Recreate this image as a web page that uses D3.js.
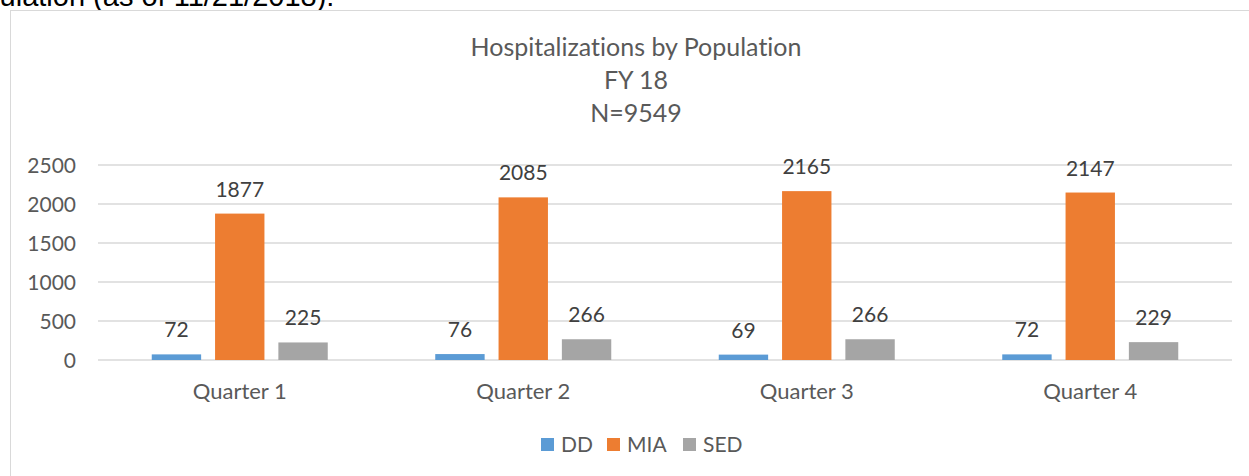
<!DOCTYPE html>
<html>
<head>
<meta charset="utf-8">
<script src="https://cdn.jsdelivr.net/npm/d3@7"></script>
<style>
  body { margin: 0; background: #fff; }
  svg { display: block; font-variant-ligatures: none; }
</style>
</head>
<body>
<script>
// values
var quarters = ["Quarter 1", "Quarter 2", "Quarter 3", "Quarter 4"];
var seriesNames = ["DD", "MIA", "SED"];
var ddValues = [72, 76, 69, 72];
var miaValues = [1877, 2085, 2165, 2147];
var sedValues = [225, 266, 266, 229];
var yTicks = [0, 500, 1000, 1500, 2000, 2500];
var titleLines = ["Hospitalizations by Population", "FY 18", "N=9549"];

var colors = { DD: "#5B9BD5", MIA: "#ED7D31", SED: "#A5A5A5" };
var textColor = "#595959";
var font = "Lato, 'Open Sans', sans-serif";

var width = 1249, height = 476;

var svg = d3.select("body")
    .append("svg")
    .attr("width", width)
    .attr("height", height);

// bit of the document text above the chart, cut off by the crop
svg.append("text")
    .attr("x", -52)
    .attr("y", 6)
    .attr("font-family", "'Liberation Sans', Arial, sans-serif")
    .attr("font-size", "29px")
    .attr("fill", "#000")
    .text("Population (as of 11/21/2018):");

// chart area border (right/bottom run off the picture)
svg.append("rect")
    .attr("x", 10.5)
    .attr("y", 10.5)
    .attr("width", 1300)
    .attr("height", 600)
    .attr("fill", "#fff")
    .attr("stroke", "#D9D9D9")
    .attr("stroke-width", 1);

// title
svg.append("g")
    .selectAll("text")
    .data(titleLines)
    .enter().append("text")
    .attr("x", 636)
    .attr("y", (d, i) => 56 + i * 33)
    .attr("text-anchor", "middle")
    .attr("font-family", font)
    .attr("font-size", "25px")
    .attr("fill", textColor)
    .text(d => d);

var x = d3.scaleBand()
    .domain(quarters)
    .range([98, 1232]);

var xInner = d3.scaleBand()
    .domain(seriesNames)
    .range([0, 176])
    .paddingInner(0.22);

var y = d3.scaleLinear()
    .domain([0, 2500])
    .range([360, 165]);

// gridlines
svg.append("g")
    .selectAll("line")
    .data(yTicks)
    .enter().append("line")
    .attr("x1", 98)
    .attr("x2", 1232)
    .attr("y1", d => y(d))
    .attr("y2", d => y(d))
    .attr("stroke", "#D9D9D9")
    .attr("stroke-width", 1.5);

// y axis labels
var yAxis = svg.append("g")
    .attr("transform", "translate(86,0)")
    .call(d3.axisLeft(y).tickValues(yTicks).tickFormat(d3.format("d")).tickSize(0).tickPadding(0));
yAxis.select(".domain").remove();
yAxis.selectAll("text")
    .attr("font-family", font)
    .attr("font-size", "21px")
    .attr("fill", textColor)
    .attr("x", -10)
    .attr("dy", "0.36em");

// x axis labels
var xAxis = svg.append("g")
    .attr("transform", "translate(0,360)")
    .call(d3.axisBottom(x).tickSize(0).tickPadding(0));
xAxis.select(".domain").remove();
xAxis.selectAll("text")
    .attr("font-family", font)
    .attr("font-size", "22px")
    .attr("fill", textColor)
    .attr("dy", "39px");

// one row per quarter
var rows = quarters.map((q, i) => ({
    quarter: q,
    values: [
        { key: "DD", value: ddValues[i] },
        { key: "MIA", value: miaValues[i] },
        { key: "SED", value: sedValues[i] }
    ]
}));

var groupOffset = (x.bandwidth() - 176) / 2;

var groups = svg.append("g")
    .selectAll("g")
    .data(rows)
    .enter().append("g")
    .attr("transform", d => `translate(${x(d.quarter) + groupOffset},0)`);

groups.selectAll("rect")
    .data(d => d.values)
    .enter().append("rect")
    .attr("x", d => xInner(d.key))
    .attr("width", xInner.bandwidth())
    .attr("y", d => y(d.value))
    .attr("height", d => y(0) - y(d.value))
    .attr("fill", d => colors[d.key]);

// value labels above bars
groups.selectAll("text")
    .data(d => d.values)
    .enter().append("text")
    .attr("x", d => xInner(d.key) + xInner.bandwidth() / 2)
    .attr("y", d => y(d.value) - 17)
    .attr("text-anchor", "middle")
    .attr("font-family", font)
    .attr("font-size", "21px")
    .attr("fill", "#404040")
    .text(d => d.value);

// legend
var legendX = [541, 607, 683];
var legend = svg.append("g")
    .selectAll("g")
    .data(seriesNames)
    .enter().append("g")
    .attr("transform", (d, i) => `translate(${legendX[i]},438)`);

legend.append("rect")
    .attr("width", 13)
    .attr("height", 13)
    .attr("fill", d => colors[d]);

legend.append("text")
    .attr("x", 20)
    .attr("y", 14)
    .attr("font-family", font)
    .attr("font-size", "21px")
    .attr("fill", textColor)
    .text(d => d);
</script>
</body>
</html>
